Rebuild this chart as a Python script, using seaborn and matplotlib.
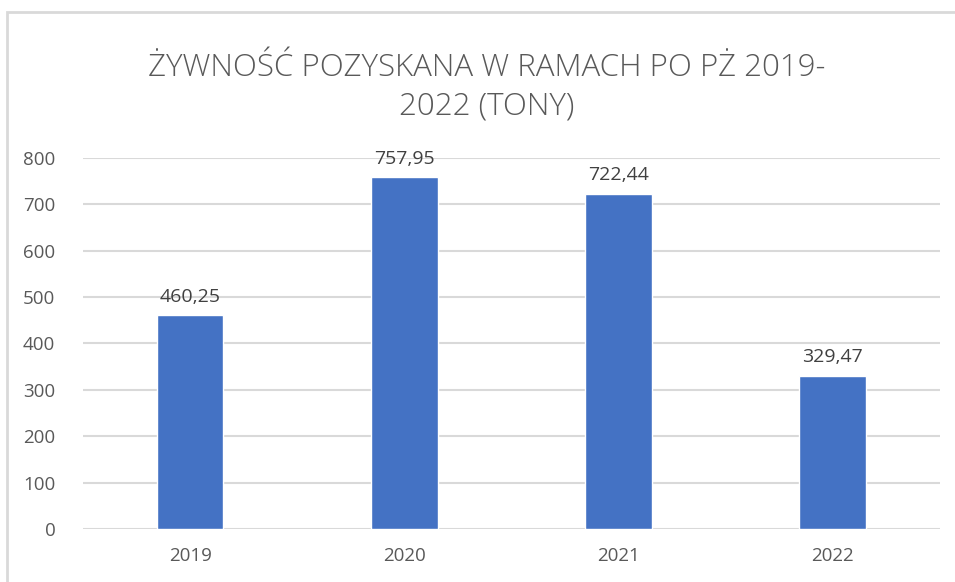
import matplotlib
matplotlib.use("Agg")
import matplotlib.pyplot as plt
import matplotlib.patches as mpatches
import seaborn as sns
import pandas as pd

years = ["2019", "2020", "2021", "2022"]
tons = [460.25, 757.95, 722.44, 329.47]
value_labels = ["460,25", "757,95", "722,44", "329,47"]
title = "ŻYWNOŚĆ POZYSKANA W RAMACH PO PŻ 2019-\n2022 (TONY)"

df = pd.DataFrame({"year": years, "tons": tons})

sns.set_theme(style="white")
plt.rcParams['font.family'] = ['Open Sans', 'DejaVu Sans']

fig = plt.figure(figsize=(9.55, 5.82), dpi=100)
ax = fig.add_axes([0.087, 0.091, 0.897, 0.638])

sns.barplot(data=df, x="year", y="tons", color="#4472C4", width=0.31,
            saturation=1, ax=ax)

for i, (v, lab) in enumerate(zip(tons, value_labels)):
    ax.annotate(lab, (i, v), xytext=(0, 7), textcoords="offset points",
                ha="center", va="bottom", fontsize=14, color="#404040")

ax.set_ylim(0, 800)
ax.set_yticks(range(0, 801, 100))
ax.yaxis.grid(True, color="#d9d9d9", linewidth=1.5)
ax.set_axisbelow(True)
for s in ax.spines.values():
    s.set_visible(False)
ax.set_xlabel("")
ax.set_ylabel("")
ax.tick_params(axis="both", length=0, labelsize=13.5, labelcolor="#595959")
ax.tick_params(axis="x", pad=13)
ax.tick_params(axis="y", pad=20)

fig.text(0.51, 0.85, title, ha="center", va="center", fontsize=22.5,
         color="#595959", fontweight="light", linespacing=1.3)

# chart frame
frame = mpatches.Rectangle((7 / 955, -0.01), 1.0, 1 - 12 / 582 + 0.01,
                           transform=fig.transFigure, fill=False,
                           edgecolor="#d9d9d9", linewidth=2)
fig.patches.append(frame)

fig.savefig("out.png", dpi=100)
